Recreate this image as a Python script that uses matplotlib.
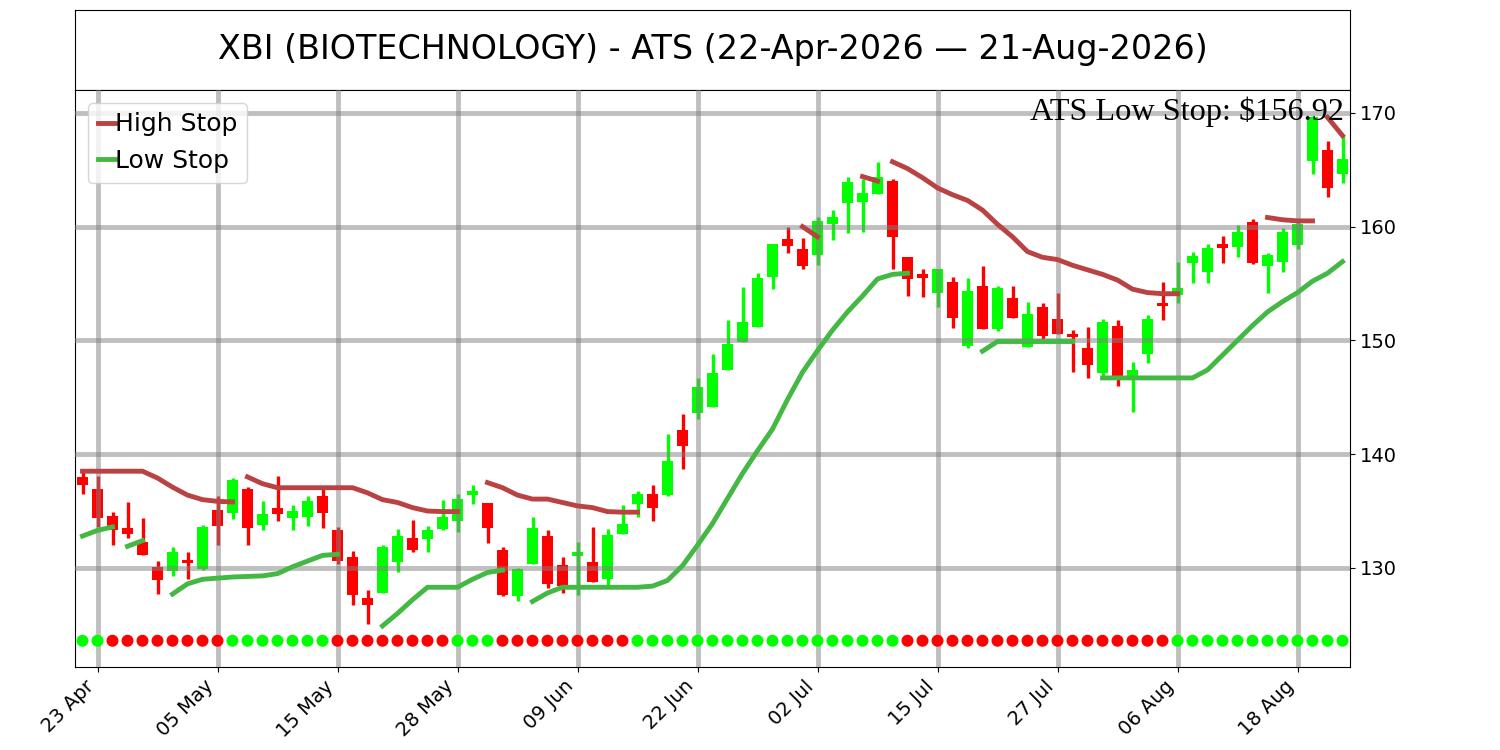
import numpy as np
import pandas as pd
import matplotlib
matplotlib.use('Agg')
import matplotlib.pyplot as plt
from matplotlib.lines import Line2D

# Dados do grafico
TICKER = 'XBI (BIOTECHNOLOGY)'
START = '2026-04-22'
END = '2026-08-21'
HOLIDAYS = ['2026-05-25', '2026-06-19', '2026-07-03']

OPENS = [138.0, 136.9, 134.6, 133.5, 132.3, 130.1, 129.7, 130.7, 129.9, 135.1,
         134.85, 136.9, 133.8, 135.3, 134.4, 134.5, 136.3, 133.3, 131.0, 127.4,
         127.8, 130.5, 132.6, 132.5, 133.4, 134.1, 136.4, 135.7, 131.6, 127.5,
         130.35, 132.8, 130.3, 131.05, 130.5, 129.0, 133.0, 135.6, 136.5, 136.4,
         142.1, 143.6, 144.1, 147.4, 149.9, 151.15, 155.55, 158.9, 158.0, 157.5,
         160.2, 162.1, 162.2, 162.9, 164.0, 157.3, 155.8, 154.2, 155.1, 149.5,
         154.8, 151.0, 153.7, 149.4, 152.9, 151.85, 150.6, 149.3, 147.1, 151.3,
         146.9, 148.8, 153.3, 154.0, 156.8, 156.0, 158.5, 158.2, 160.4, 156.5,
         156.9, 158.4, 165.8, 166.7, 164.6]
HIGHS = [138.6, 138.1, 134.9, 135.8, 134.4, 130.6, 131.85, 131.4, 133.8, 136.3,
         137.9, 137.1, 135.9, 138.1, 135.5, 136.3, 136.9, 133.6, 131.5, 128.1,
         132.0, 133.4, 134.2, 133.7, 136.0, 136.5, 137.3, 135.7, 131.85, 130.0,
         134.5, 133.3, 131.0, 132.3, 133.6, 133.4, 135.55, 136.8, 137.3, 141.8,
         143.5, 146.7, 148.8, 151.8, 154.7, 155.9, 158.5, 160.0, 159.0, 160.8,
         161.5, 164.4, 164.2, 165.7, 164.2, 157.3, 156.3, 156.3, 155.6, 155.5,
         156.5, 154.8, 154.8, 153.4, 153.3, 154.2, 150.9, 151.15, 151.85, 151.8,
         148.1, 152.2, 155.1, 156.9, 157.8, 158.5, 159.2, 160.1, 160.7, 157.7,
         159.9, 160.6, 169.7, 167.5, 168.0]
LOWS = [136.5, 133.6, 132.0, 132.6, 131.1, 127.7, 129.3, 129.0, 129.8, 132.0,
        134.3, 132.0, 133.3, 134.1, 133.3, 133.7, 133.5, 130.35, 126.7, 125.1,
        127.8, 129.6, 131.4, 131.4, 133.35, 133.2, 135.6, 132.2, 127.5, 127.1,
        130.35, 128.2, 127.8, 127.6, 128.8, 128.5, 133.0, 134.5, 134.1, 136.3,
        138.7, 143.1, 144.1, 147.4, 149.9, 151.15, 154.5, 157.7, 156.3, 156.6,
        158.8, 159.4, 159.5, 162.9, 156.3, 153.9, 153.8, 152.9, 151.05, 149.3,
        151.0, 150.8, 152.0, 149.4, 149.9, 150.6, 147.2, 146.7, 146.7, 146.0,
        143.7, 148.0, 151.8, 153.3, 155.0, 155.0, 156.8, 157.3, 156.7, 154.2,
        156.0, 158.0, 164.6, 162.6, 163.8]
CLOSES = [137.3, 134.4, 133.3, 133.0, 131.1, 128.9, 131.4, 130.4, 133.6, 133.7,
          137.75, 133.5, 134.75, 134.75, 135.0, 135.9, 134.8, 130.6, 127.6, 126.7,
          131.8, 132.8, 131.6, 133.35, 134.5, 136.1, 136.8, 133.5, 127.6, 129.9,
          133.5, 128.6, 128.4, 131.4, 128.8, 132.9, 133.9, 136.5, 135.3, 139.4,
          140.7, 145.9, 147.1, 149.7, 151.6, 155.5, 158.5, 158.3, 156.5, 160.5,
          160.8, 163.9, 162.95, 164.4, 159.1, 155.4, 155.5, 156.3, 152.0, 154.3,
          151.0, 154.6, 152.0, 152.3, 150.4, 150.6, 150.3, 147.8, 151.6, 146.9,
          147.4, 151.9, 153.0, 154.6, 157.4, 158.1, 158.1, 159.5, 156.8, 157.5,
          159.5, 160.2, 169.6, 163.4, 165.9]

# Trechos das linhas de stop: (indice inicial, valores)
HIGH_STOP_SEGMENTS = [
    (0, [138.5, 138.5, 138.5, 138.5, 138.5, 137.9, 137.1, 136.4, 136.0, 135.85, 135.8]),
    (11, [138.0, 137.4, 137.05, 137.05, 137.05, 137.05, 137.05, 137.05, 136.6, 136.0,
          135.75, 135.3, 135.0, 134.95, 134.95]),
    (27, [137.5, 137.05, 136.4, 136.05, 136.05, 135.75, 135.45, 135.3, 134.95, 134.9, 134.9]),
    (48, [160.0, 159.1]),
    (52, [164.4, 164.0]),
    (54, [165.7, 165.1, 164.3, 163.4, 162.8, 162.3, 161.45, 160.2, 159.1, 157.8,
          157.3, 157.1, 156.6, 156.2, 155.8, 155.3, 154.5, 154.2, 154.1, 154.1]),
    (79, [160.8, 160.6, 160.5, 160.5]),
    (83, [169.6, 168.0]),
]
LOW_STOP_SEGMENTS = [
    (0, [132.8, 133.3, 133.6]),
    (3, [131.9, 132.4]),
    (6, [127.7, 128.6, 129.0, 129.1, 129.2, 129.25, 129.3, 129.5, 130.1, 130.6, 131.1, 131.2]),
    (20, [124.9, 126.0, 127.2, 128.3, 128.3, 128.3, 129.0, 129.6, 129.8]),
    (30, [127.05, 127.8, 128.3, 128.3, 128.3, 128.3, 128.3, 128.3, 128.4, 128.9,
          130.2, 132.0, 133.9, 136.1, 138.3, 140.3, 142.2, 144.8, 147.2, 149.1,
          150.9, 152.5, 153.9, 155.4, 155.8, 155.9]),
    (60, [149.05, 149.9, 149.9, 149.9, 149.9, 149.9, 149.9]),
    (68, [146.7, 146.7, 146.7, 146.7, 146.7, 146.7, 146.7, 147.4, 148.7, 150.0,
          151.3, 152.5, 153.4, 154.2, 155.2, 155.9, 156.92]),
]

# Tendencia por dia (G = alta, R = baixa)
TREND = ("GG" "RRRRRRRR" "GGGGGGG" "RRRRRRRR" "GGG" "RRRRRRRRR"
         "GGGGGGGGGGGGGGGGGG" "RRRRRRRRRRRRRRRRRR" "GGGGGGGGGGGG")

UP_COLOR = '#00ff00'
DOWN_COLOR = '#ff0000'
HIGH_COLOR = '#bb4242'
LOW_COLOR = '#44b844'


def plotar_ats():
    """ Desenha o grafico de candles com as linhas de stop do ATS """
    dates = pd.bdate_range(START, END, freq='C', holidays=HOLIDAYS)
    n = len(dates)
    x = np.arange(n)
    opens = np.array(OPENS)
    closes = np.array(CLOSES)

    fig = plt.figure(figsize=(15, 7.5), dpi=100)

    # Caixa do titulo
    ax_t = fig.add_axes([0.05, 0.88, 0.85, 0.1067])
    ax_t.set_xticks([])
    ax_t.set_yticks([])
    title = f"{TICKER} - ATS ({dates[0]:%d-%b-%Y} \u2014 {dates[-1]:%d-%b-%Y})"
    ax_t.text(0.5, 0.5, title, ha='center', va='center', fontsize=24)

    ax = fig.add_axes([0.05, 0.1107, 0.85, 0.7693])

    # Candles
    cores = np.where(closes >= opens, UP_COLOR, DOWN_COLOR)
    ax.vlines(x, LOWS, HIGHS, colors=cores, linewidth=2.4, zorder=1)
    ax.bar(x, np.abs(closes - opens), bottom=np.minimum(opens, closes),
           width=0.7, color=cores, zorder=1)

    # Linhas de stop
    for ini, vals in HIGH_STOP_SEGMENTS:
        ax.plot(np.arange(ini, ini + len(vals)), vals, color=HIGH_COLOR,
                linewidth=3.5, zorder=3)
    for ini, vals in LOW_STOP_SEGMENTS:
        ax.plot(np.arange(ini, ini + len(vals)), vals, color=LOW_COLOR,
                linewidth=3.5, zorder=3)

    # Pontos de tendencia na base
    nivel = 0.988 * min(LOWS)
    cores_t = [UP_COLOR if t == 'G' else DOWN_COLOR for t in TREND]
    ax.scatter(x, np.full(n, nivel), c=cores_t, s=58, zorder=3)

    ax.set_xlim(-0.5, n - 0.5)
    ticks = x[1::8]
    ax.set_xticks(ticks)
    ax.set_xticklabels([dates[i].strftime('%d %b') for i in ticks],
                       rotation=45, ha='right', fontsize=14)
    ax.yaxis.tick_right()
    ax.tick_params(axis='y', labelsize=14)

    ax.grid(True, color='gray', alpha=0.5, linewidth=3.5)
    ax.set_axisbelow(False)

    ultimo_low = LOW_STOP_SEGMENTS[-1][1][-1]
    ax.text(0.995, 0.988, f"ATS Low Stop: ${ultimo_low:.2f}", transform=ax.transAxes,
            ha='right', va='top', fontsize=23.2, family='Liberation Serif', zorder=4)

    handles = [Line2D([0], [0], color=HIGH_COLOR, linewidth=3.5),
               Line2D([0], [0], color=LOW_COLOR, linewidth=3.5)]
    ax.legend(handles, ['High Stop', 'Low Stop'], loc='upper left', fontsize=18,
              handlelength=0.7, handletextpad=0.0)

    fig.savefig('out.png', dpi=100)


if __name__ == "__main__":
    plotar_ats()
